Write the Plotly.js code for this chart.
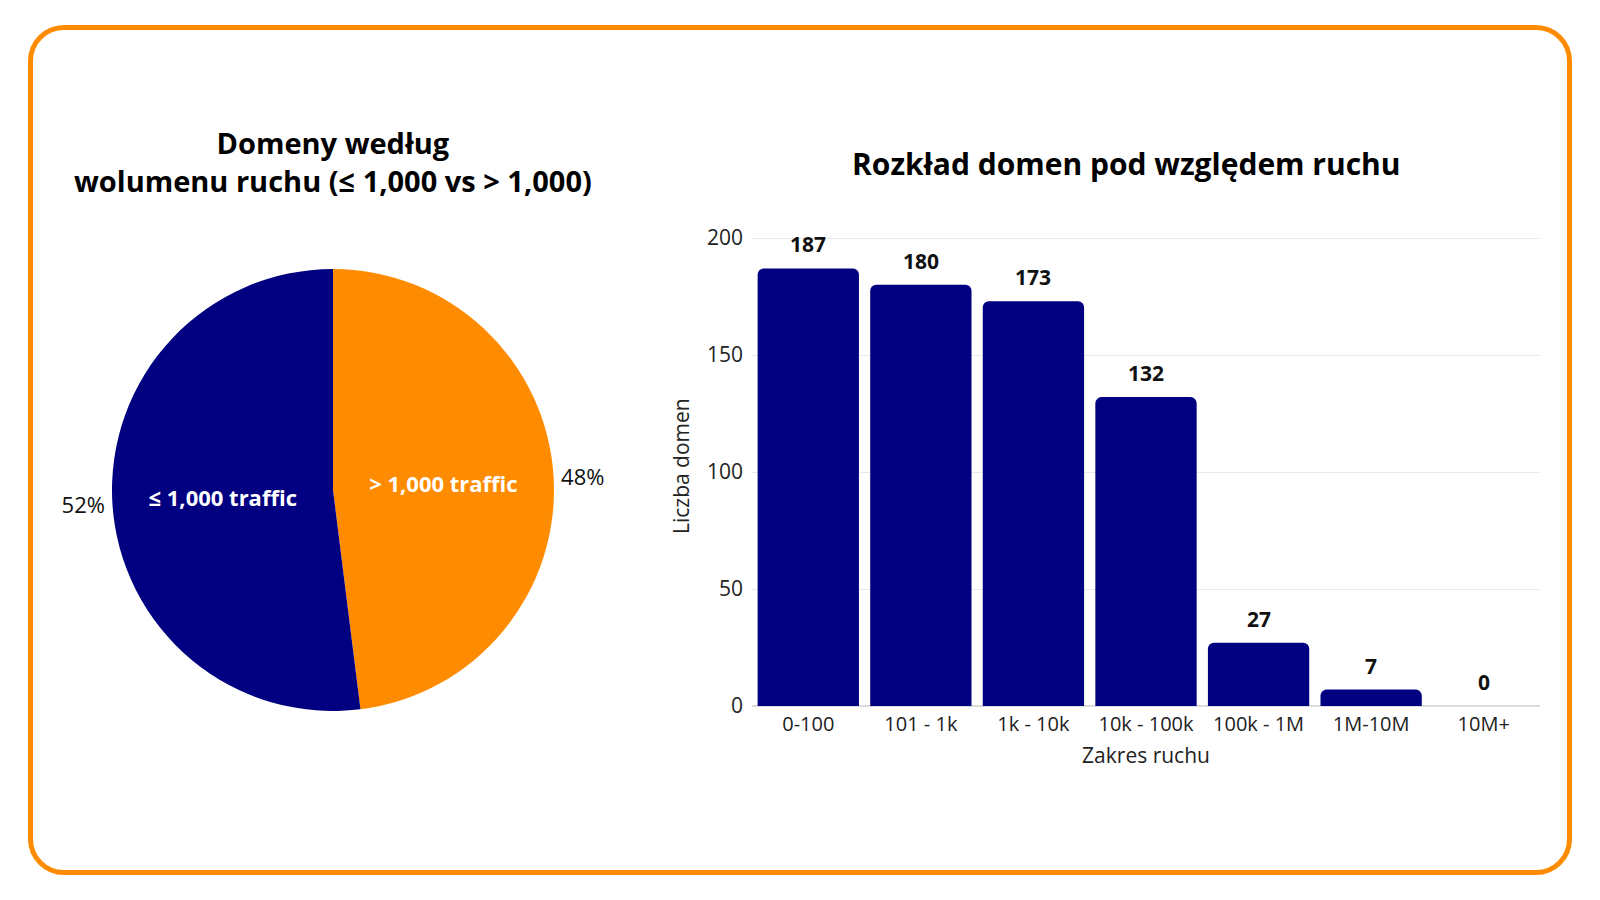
<!DOCTYPE html>
<html><head><meta charset="utf-8">
<script src="https://cdn.plot.ly/plotly-3.0.1.min.js"></script>
<style>
html,body{margin:0;padding:0;background:#fff;}
#frame{position:absolute;left:28px;top:25px;width:1544px;height:850px;box-sizing:border-box;border:5px solid #FF8C00;border-radius:36px;pointer-events:none;}
#chart{position:absolute;left:0;top:0;width:1600px;height:900px;}
</style></head><body>
<div id="chart"></div><div id="frame"></div>
<script>
const pieLabels = ['> 1,000 traffic', '≤ 1,000 traffic'];
const pieValues = [339, 367];
const pieColors = ['#FF8C00', '#000080'];
const trafficRanges = ['0-100', '101 - 1k', '1k - 10k', '10k - 100k', '100k - 1M', '1M-10M', '10M+'];
const domainCounts = [187, 180, 173, 132, 27, 7, 0];

const FONT = '"Open Sans", sans-serif';
const W = 1600, H = 900;
const px = v => v / W;
const py = v => 1 - v / H;

const pieDomain = {x: [px(112), px(554)], y: [py(711), py(269)]};

const traces = [
  {
    type: 'pie', labels: pieLabels, values: pieValues, sort: false, direction: 'clockwise',
    marker: {colors: pieColors, line: {width: 0}},
    textinfo: 'label', textposition: 'inside', insidetextorientation: 'horizontal',
    textfont: {family: FONT, size: 22, color: '#ffffff', weight: 'bold'},
    domain: pieDomain, showlegend: false, hoverinfo: 'label+percent'
  },
  {
    type: 'pie', labels: pieLabels, values: pieValues, sort: false, direction: 'clockwise',
    marker: {colors: ['rgba(0,0,0,0)', 'rgba(0,0,0,0)'], line: {width: 0}},
    texttemplate: '%{percent:.0%}', textposition: 'outside',
    outsidetextfont: {family: FONT, size: 22, color: '#111111'},
    domain: pieDomain, showlegend: false, hoverinfo: 'skip'
  },
  {
    type: 'bar', x: trafficRanges, y: domainCounts, xaxis: 'x', yaxis: 'y',
    marker: {color: '#000080', cornerradius: 6, line: {width: 0}},
    showlegend: false, hoverinfo: 'x+y'
  }
];

const barLabels = trafficRanges.map((c, i) => ({
  x: c, y: domainCounts[i], xref: 'x', yref: 'y', text: '<b>' + domainCounts[i] + '</b>',
  showarrow: false, yshift: 24, font: {family: FONT, size: 21, color: '#111111'}
}));

const layout = {
  width: W, height: H,
  margin: {l: 0, r: 0, t: 0, b: 0},
  paper_bgcolor: 'rgba(0,0,0,0)', plot_bgcolor: 'rgba(0,0,0,0)',
  font: {family: FONT, color: '#222222'},
  bargap: 0.1,
  xaxis: {
    domain: [px(752), px(1540)], anchor: 'y',
    showgrid: false, showline: false, ticks: '', ticklabelstandoff: 4,
    tickfont: {family: FONT, size: 20, color: '#222222'},
    title: {text: 'Zakres ruchu', font: {family: FONT, size: 21, color: '#222222'}, standoff: 12}
  },
  yaxis: {
    domain: [py(706), py(706 - 205 * 2.34)], anchor: 'x',
    range: [0, 205], tickvals: [0, 50, 100, 150, 200],
    showgrid: true, gridcolor: '#e8e8e8', gridwidth: 1,
    zeroline: true, zerolinecolor: '#dcdcdc', zerolinewidth: 1.5,
    showline: false, ticks: '', ticklabelstandoff: 8,
    tickfont: {family: FONT, size: 21, color: '#222222'},
    title: {text: 'Liczba domen', font: {family: FONT, size: 21, color: '#222222'}, standoff: 11}
  },
  annotations: [
    {x: px(333), y: py(162), xref: 'paper', yref: 'paper', xanchor: 'center', yanchor: 'middle',
     text: '<b>Domeny według<br>wolumenu ruchu (≤ 1,000 vs > 1,000)</b>', showarrow: false,
     font: {family: FONT, size: 29, color: '#000000'}},
    {x: px(1126), y: py(163), xref: 'paper', yref: 'paper', xanchor: 'center', yanchor: 'middle',
     text: '<b>Rozkład domen pod względem ruchu</b>', showarrow: false,
     font: {family: FONT, size: 30, color: '#000000'}}
  ].concat(barLabels)
};

Plotly.newPlot('chart', traces, layout, {displayModeBar: false, staticPlot: true});
</script>
</body></html>
